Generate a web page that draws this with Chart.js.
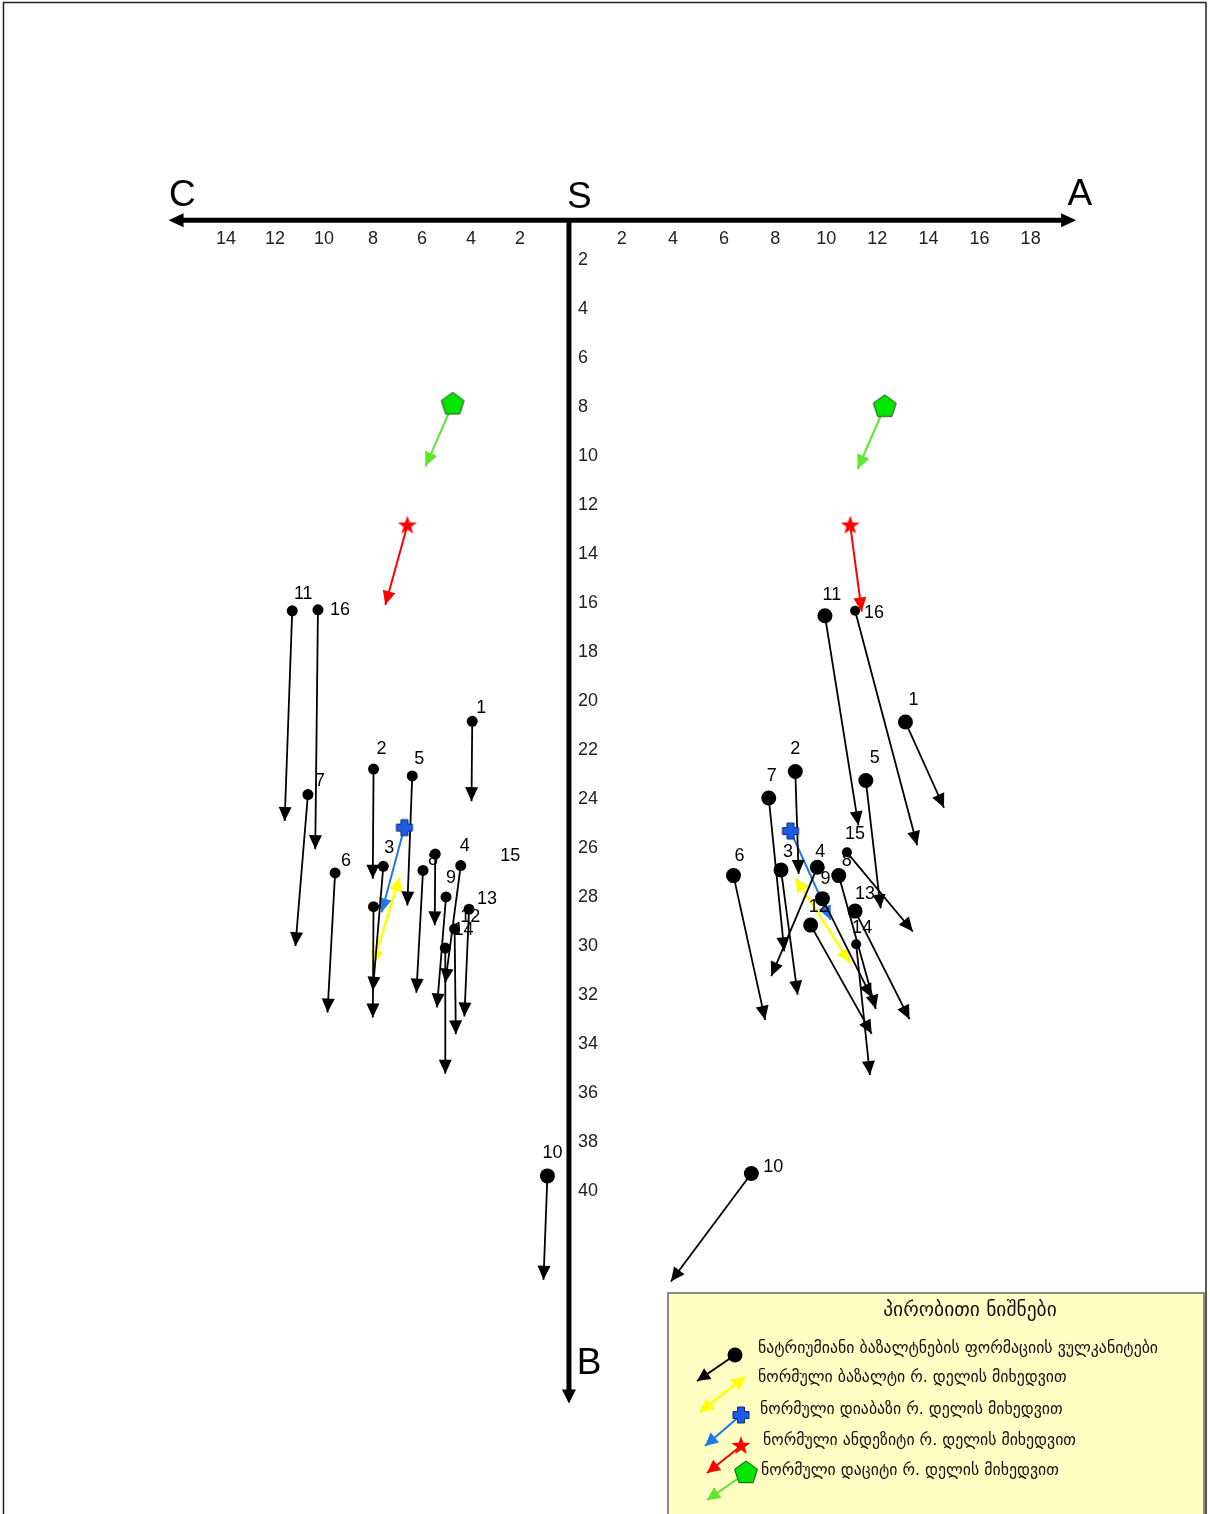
<!DOCTYPE html>
<html>
<head>
<meta charset="utf-8">
<script src="https://cdn.jsdelivr.net/npm/chart.js@4.4.0/dist/chart.umd.min.js"></script>
<style>
body { margin: 0; background: #fff; }
canvas { display: block; }
</style>
</head>
<body>
<canvas id="zav" width="1210" height="1514"></canvas>
<script>
// axis tick labels
var aTicks = [2, 4, 6, 8, 10, 12, 14, 16, 18];
var cTicks = [2, 4, 6, 8, 10, 12, 14];
var bTicks = [2, 4, 6, 8, 10, 12, 14, 16, 18, 20, 22, 24, 26, 28, 30, 32, 34, 36, 38, 40];

// left half (c - b plane): sample number, vector start and end
var leftNames = ["1", "2", "3", "4", "5", "6", "7", "8", "9", "10", "11", "12", "13", "14", "15", "16", ""];
var leftC0 = [3.95, 7.98, 7.58, 4.42, 6.40, 9.55, 10.66, 5.96, 5.02, 0.88, 11.30, 5.05, 4.08, 4.67, 5.46, 10.25, 7.98];
var leftB0 = [20.45, 22.40, 26.37, 26.34, 22.68, 26.64, 23.44, 26.54, 27.62, 39.01, 15.94, 29.71, 28.12, 28.93, 25.87, 15.90, 28.02];
var leftC1 = [3.98, 8.01, 8.01, 5.05, 6.60, 9.86, 11.17, 6.23, 5.39, 1.04, 11.61, 5.05, 4.27, 4.62, 5.48, 10.36, 8.01];
var leftB1 = [23.71, 26.88, 31.45, 31.12, 27.97, 32.34, 29.63, 31.53, 32.13, 43.25, 24.52, 34.84, 32.50, 33.23, 28.78, 25.67, 32.54];

// right half (a - b plane)
var rightNames = ["1", "2", "3", "4", "5", "6", "7", "8", "9", "10", "11", "12", "13", "14", "15", "16"];
var rightA0 = [13.10, 8.79, 8.23, 9.65, 11.55, 6.37, 7.75, 10.49, 9.85, 7.07, 9.95, 9.39, 11.13, 11.17, 10.81, 11.13];
var rightB0 = [20.48, 22.50, 26.52, 26.41, 22.87, 26.75, 23.58, 26.75, 27.69, 38.91, 16.14, 28.77, 28.20, 29.55, 25.80, 15.94];
var rightA1 = [14.61, 8.92, 8.88, 7.85, 12.13, 7.61, 8.36, 11.94, 11.78, 3.92, 11.26, 11.78, 13.26, 11.71, 13.39, 13.56];
var rightB1 = [23.98, 26.68, 31.61, 30.85, 28.09, 32.64, 29.84, 32.20, 31.73, 43.32, 24.70, 33.21, 32.61, 34.89, 29.03, 25.51];

// normal rocks after Daly: basalt, diabase, andesite, dacite
var rockLeftC0 = [6.92, 6.72, 6.60, 4.75];
var rockLeftB0 = [26.84, 24.79, 12.46, 7.51];
var rockLeftC1 = [8.01, 7.65, 7.50, 5.86];
var rockLeftB1 = [30.36, 28.25, 15.70, 10.04];
var rockRightA0 = [8.81, 8.60, 10.94, 12.29];
var rockRightB0 = [26.88, 24.93, 12.46, 7.61];
var rockRightA1 = [10.94, 10.17, 11.39, 11.23];
var rockRightB1 = [30.32, 28.56, 15.97, 10.15];

var legendTitle = "პირობითი ნიშნები";
var legendTexts = [
    "ნატრიუმიანი ბაზალტნების ფორმაციის ვულკანიტები",
    "ნორმული ბაზალტი რ. დელის მიხედვით",
    "ნორმული დიაბაზი რ. დელის მიხედვით",
    "ნორმული ანდეზიტი რ. დელის მიხედვით",
    "ნორმული დაციტი რ. დელის მიხედვით"
];

// label placement next to the dots (pixels)
var leftLabDx = [9, 8, 6, 4, 7, 11, 12, 10, 5, 5, 11, 25, 18, 9, 75, 22, 0];
var leftLabDy = [-13, -20, -18, -20, -17, -12, -13, -10, -19, -23, -17, -31, -10, 1, 2, 0, 0];
var rightLabDx = [8, 0, 7, 3, 9, 6, 3, 8, 3, 22, 7, 8, 10, 6, 8, 19];
var rightLabDy = [-22, -22, -18, -15, -23, -20, -22, -15, -20, -6, -21, -18, -17, -16, -18, 2];

var rockColors = ["#FFFF00", "#1E78E6", "#FF0000", "#5CE62E"];
var numFont = "18px 'Liberation Sans', Arial, sans-serif";
var geoFont = "'DejaVu Sans', sans-serif";

//marker pictures
function drawCross(ctx, x, y) {
    var a = 8, t = 3.5;
    ctx.beginPath();
    ctx.moveTo(x - t, y - a); ctx.lineTo(x + t, y - a); ctx.lineTo(x + t, y - t);
    ctx.lineTo(x + a, y - t); ctx.lineTo(x + a, y + t); ctx.lineTo(x + t, y + t);
    ctx.lineTo(x + t, y + a); ctx.lineTo(x - t, y + a); ctx.lineTo(x - t, y + t);
    ctx.lineTo(x - a, y + t); ctx.lineTo(x - a, y - t); ctx.lineTo(x - t, y - t);
    ctx.closePath();
    ctx.fillStyle = "#1A5CE6";
    ctx.fill();
    ctx.strokeStyle = "#0A2A70";
    ctx.lineWidth = 1;
    ctx.stroke();
}
function drawStar(ctx, x, y) {
    ctx.beginPath();
    for (var i = 0; i < 10; i++) {
        var r = i % 2 ? 4 : 10;
        var ang = -Math.PI / 2 + i * Math.PI / 5;
        ctx.lineTo(x + r * Math.cos(ang), y + r * Math.sin(ang));
    }
    ctx.closePath();
    ctx.fillStyle = "#FF0000";
    ctx.fill();
}
function drawPenta(ctx, x, y) {
    ctx.beginPath();
    for (var i = 0; i < 5; i++) {
        var ang = -Math.PI / 2 + i * 2 * Math.PI / 5;
        ctx.lineTo(x + 12 * Math.cos(ang), y + 12 * Math.sin(ang));
    }
    ctx.closePath();
    ctx.fillStyle = "#00E600";
    ctx.fill();
    ctx.strokeStyle = "#1B4D1B";
    ctx.lineWidth = 1;
    ctx.stroke();
}
function markerImage(fn) {
    var c = document.createElement("canvas");
    c.width = 30; c.height = 30;
    fn(c.getContext("2d"), 15, 15);
    return c;
}
var crossImg = markerImage(drawCross);
var starImg = markerImage(drawStar);
var pentaImg = markerImage(drawPenta);

function arrowHead(ctx, x0, y0, x1, y1, len, half, color) {
    var ang = Math.atan2(y1 - y0, x1 - x0);
    ctx.save();
    ctx.translate(x1, y1);
    ctx.rotate(ang);
    ctx.beginPath();
    ctx.moveTo(0, 0);
    ctx.lineTo(-len, -half);
    ctx.lineTo(-len, half);
    ctx.closePath();
    ctx.fillStyle = color;
    ctx.fill();
    ctx.restore();
}

function vec(axis, x0, y0, x1, y1, color, width, heads) {
    return {
        data: [{x: x0, y: y0}, {x: x1, y: y1}],
        xAxisID: axis,
        yAxisID: "y",
        showLine: true,
        borderColor: color,
        borderWidth: width,
        pointRadius: 0,
        pointHoverRadius: 0,
        order: 2,
        heads: heads,
        headColor: color
    };
}

var datasets = [];
leftNames.forEach(function (n, i) {
    datasets.push(vec("xc", leftC0[i], leftB0[i], leftC1[i], leftB1[i], "#000", 1.8, 1));
});
rightNames.forEach(function (n, i) {
    datasets.push(vec("xa", rightA0[i], rightB0[i], rightA1[i], rightB1[i], "#000", 1.8, 1));
});
rockColors.forEach(function (col, i) {
    var h = i === 0 ? 2 : 1;
    var w = i === 0 ? 2.5 : 2;
    datasets.push(vec("xc", rockLeftC0[i], rockLeftB0[i], rockLeftC1[i], rockLeftB1[i], col, w, h));
    datasets.push(vec("xa", rockRightA0[i], rockRightB0[i], rockRightA1[i], rockRightB1[i], col, w, h));
});

// sample dots
datasets.push({
    data: leftC0.map(function (c, i) { return {x: c, y: leftB0[i]}; }),
    xAxisID: "xc", yAxisID: "y",
    pointRadius: leftNames.map(function (n) { return n === "10" ? 7.5 : 5.5; }),
    pointBackgroundColor: "#000", pointBorderWidth: 0,
    order: 0, names: leftNames, labDx: leftLabDx, labDy: leftLabDy
});
datasets.push({
    data: rightA0.map(function (a, i) { return {x: a, y: rightB0[i]}; }),
    xAxisID: "xa", yAxisID: "y",
    pointRadius: rightNames.map(function (n) { return (n === "14" || n === "15" || n === "16") ? 5 : 7.5; }),
    pointBackgroundColor: "#000", pointBorderWidth: 0,
    order: 0, names: rightNames, labDx: rightLabDx, labDy: rightLabDy
});
// rock markers
datasets.push({
    data: rockLeftC0.map(function (c, i) { return {x: c, y: rockLeftB0[i]}; }),
    xAxisID: "xc", yAxisID: "y",
    pointStyle: ["circle", crossImg, starImg, pentaImg],
    pointRadius: [0, 6, 6, 6], order: 0
});
datasets.push({
    data: rockRightA0.map(function (a, i) { return {x: a, y: rockRightB0[i]}; }),
    xAxisID: "xa", yAxisID: "y",
    pointStyle: ["circle", crossImg, starImg, pentaImg],
    pointRadius: [0, 6, 6, 6], order: 0
});

var diagram = {
    id: "diagram",
    beforeDraw: function (chart) {
        var ctx = chart.ctx;
        ctx.save();
        ctx.fillStyle = "#fff";
        ctx.fillRect(0, 0, chart.width, chart.height);
        ctx.restore();
    },
    beforeDatasetsDraw: function (chart) {
        var ctx = chart.ctx;
        var xa = chart.scales.xa, xc = chart.scales.xc, y = chart.scales.y;
        var oy = y.getPixelForValue(0), ox = xc.getPixelForValue(0);
        var xl = xc.getPixelForValue(16.35), xr = xa.getPixelForValue(19.78);
        var yb = y.getPixelForValue(48.3);
        ctx.save();
        ctx.strokeStyle = "#000";
        ctx.lineWidth = 5;
        ctx.beginPath();
        ctx.moveTo(xl + 10, oy); ctx.lineTo(xr - 10, oy);
        ctx.moveTo(ox, oy - 2.5); ctx.lineTo(ox, yb - 10);
        ctx.stroke();
        arrowHead(ctx, xr - 20, oy, xr, oy, 15, 7, "#000");
        arrowHead(ctx, xl + 20, oy, xl, oy, 15, 7, "#000");
        arrowHead(ctx, ox, yb - 20, ox, yb, 14, 7, "#000");

        ctx.fillStyle = "#222";
        ctx.font = numFont;
        ctx.textAlign = "center";
        ctx.textBaseline = "middle";
        aTicks.forEach(function (v) { ctx.fillText(String(v), xa.getPixelForValue(v), oy + 19); });
        cTicks.forEach(function (v) { ctx.fillText(String(v), xc.getPixelForValue(v), oy + 19); });
        ctx.textAlign = "left";
        bTicks.forEach(function (v) { ctx.fillText(String(v), ox + 9, y.getPixelForValue(v) - 9); });

        ctx.fillStyle = "#000";
        ctx.font = "37px 'Liberation Sans', Arial, sans-serif";
        ctx.textAlign = "center";
        ctx.fillText("C", xc.getPixelForValue(15.79), oy - 25);
        ctx.fillText("S", xa.getPixelForValue(0.34), oy - 23);
        ctx.fillText("A", xa.getPixelForValue(19.93), oy - 26);
        ctx.fillText("B", xa.getPixelForValue(0.72), y.getPixelForValue(46.7));
        ctx.restore();
    },
    afterDatasetDraw: function (chart, args) {
        var ds = chart.data.datasets[args.index];
        if (!ds.heads) return;
        var p = args.meta.data;
        var ctx = chart.ctx;
        arrowHead(ctx, p[0].x, p[0].y, p[1].x, p[1].y, 14, 6.5, ds.headColor);
        if (ds.heads === 2) arrowHead(ctx, p[1].x, p[1].y, p[0].x, p[0].y, 13, 7, ds.headColor);
    },
    afterDatasetsDraw: function (chart) {
        var ctx = chart.ctx;
        ctx.save();
        ctx.fillStyle = "#000";
        ctx.font = numFont;
        ctx.textAlign = "center";
        ctx.textBaseline = "middle";
        chart.data.datasets.forEach(function (ds, i) {
            if (!ds.names) return;
            chart.getDatasetMeta(i).data.forEach(function (pt, j) {
                ctx.fillText(ds.names[j], pt.x + ds.labDx[j], pt.y + ds.labDy[j]);
            });
        });
        ctx.restore();
    },
    afterDraw: function (chart) {
        var ctx = chart.ctx;
        ctx.save();
        // legend box
        ctx.fillStyle = "#FFFFC4";
        ctx.fillRect(668, 1293, 536, 240);
        ctx.strokeStyle = "#8A8A8A";
        ctx.lineWidth = 2;
        ctx.strokeRect(668, 1293, 536, 240);

        ctx.fillStyle = "#111";
        ctx.textBaseline = "middle";
        ctx.textAlign = "center";
        ctx.font = "19.5px " + geoFont;
        ctx.fillText(legendTitle, 970, 1311);
        ctx.textAlign = "left";
        ctx.font = "15.8px " + geoFont;
        var rowY = [1349, 1378, 1410, 1441, 1471];
        var rowX = [758, 758, 760, 763, 761];
        legendTexts.forEach(function (t, i) { ctx.fillText(t, rowX[i], rowY[i]); });

        // legend icons
        ctx.lineWidth = 2;
        ctx.strokeStyle = "#000";
        ctx.beginPath(); ctx.moveTo(735, 1355); ctx.lineTo(697, 1381); ctx.stroke();
        arrowHead(ctx, 735, 1355, 697, 1381, 13, 6.5, "#000");
        ctx.beginPath(); ctx.arc(735, 1355, 7.5, 0, Math.PI * 2); ctx.fillStyle = "#000"; ctx.fill();

        ctx.strokeStyle = rockColors[0]; ctx.lineWidth = 2.5;
        ctx.beginPath(); ctx.moveTo(700, 1412); ctx.lineTo(745, 1377); ctx.stroke();
        arrowHead(ctx, 745, 1377, 700, 1412, 13, 7, rockColors[0]);
        arrowHead(ctx, 700, 1412, 745, 1377, 13, 7, rockColors[0]);

        var icons = [[741, 1415, 705, 1446, drawCross], [741, 1446, 707, 1473, drawStar], [746, 1473, 707, 1500, drawPenta]];
        icons.forEach(function (ic, k) {
            ctx.strokeStyle = rockColors[k + 1]; ctx.lineWidth = 2;
            ctx.beginPath(); ctx.moveTo(ic[0], ic[1]); ctx.lineTo(ic[2], ic[3]); ctx.stroke();
            arrowHead(ctx, ic[0], ic[1], ic[2], ic[3], 13, 6.5, rockColors[k + 1]);
            ic[4](ctx, ic[0], ic[1]);
        });

        // outer frame
        ctx.strokeStyle = "#222";
        ctx.lineWidth = 1.5;
        ctx.strokeRect(3.5, 2.5, 1202.5, 1540);
        ctx.restore();
    }
};

var chart = new Chart(document.getElementById("zav"), {
    type: "scatter",
    data: {datasets: datasets},
    options: {
        responsive: false,
        animation: false,
        devicePixelRatio: 1,
        events: [],
        layout: {padding: 0},
        plugins: {legend: {display: false}, tooltip: {enabled: false}},
        scales: {
            xa: {type: "linear", axis: "x", position: "bottom", min: -22.045, max: 24.727, display: false},
            xc: {type: "linear", axis: "x", position: "bottom", min: -25.87, max: 22.927, reverse: true, display: false},
            y: {type: "linear", min: -8.690, max: 52.506, reverse: true, display: false}
        }
    },
    plugins: [diagram]
});
</script>
</body>
</html>
